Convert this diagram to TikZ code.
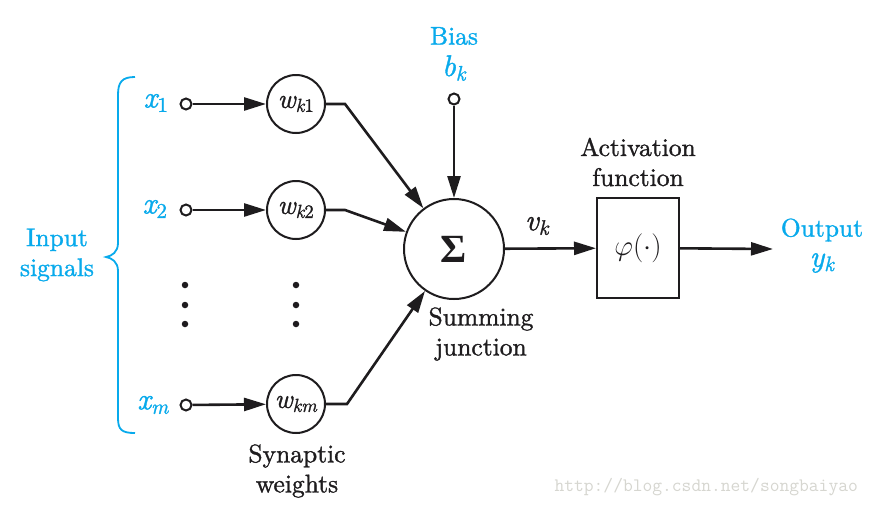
\documentclass[tikz,border=0pt]{standalone}
\usepackage{fix-cm}
\usepackage{fontspec}
\setmainfont{lmroman10-regular.otf}[ItalicFont=lmroman10-italic.otf, BoldFont=lmroman10-bold.otf, BoldItalicFont=lmroman10-bolditalic.otf, RawFeature={embolden=1.2}]
\newfontfamily\sigfont{Liberation Serif}
\usetikzlibrary{arrows.meta}
\definecolor{sigblue}{RGB}{8,170,236}
\definecolor{ink}{RGB}{30,28,30}
\definecolor{wmark}{RGB}{214,214,208}
\newcommand{\vi}[1]{\mathit{#1}}
\begin{document}
\begin{tikzpicture}[x=1pt,y=-1pt,
  every node/.style={font=\fontsize{25.5}{30}\selectfont, text=ink},
  mathbig/.style={font=\fontsize{30}{32}\selectfont},
  wcirc/.style={circle, draw=ink, line width=2pt, minimum size=58pt, inner sep=0pt, font=\fontsize{27}{30}\selectfont},
  incirc/.style={circle, draw=ink, fill=white, line width=2pt, minimum size=11pt, inner sep=0pt},
  sumcirc/.style={circle, draw=ink, line width=2pt, minimum size=100pt, inner sep=0pt},
  actbox/.style={rectangle, draw=ink, line width=2pt, minimum width=82pt, minimum height=100pt, inner sep=0pt, font=\fontsize{29}{30}\selectfont},
  arr/.style={draw=ink, line width=2.6pt, -{Triangle[length=22pt,width=13pt]}},
  bluetxt/.style={text=sigblue},
  lbl/.style={align=center, inner sep=0pt},
  dotmark/.style={circle, fill=ink, minimum size=6.5pt, inner sep=0pt}
]
\useasboundingbox[fill=white] (0,0) rectangle (874,506);

% input brace
\draw[sigblue, line width=1.8pt]
  (135,77) .. controls (122,77) and (118,82) .. (118,95) -- (118,243)
  .. controls (118,252) and (112,256) .. (106,257)
  .. controls (112,258) and (118,262) .. (118,271) -- (118,418)
  .. controls (118,430) and (122,433) .. (135,433);
\node[bluetxt, lbl] (insig) at (57,255) {Input\\signals};

% input labels and terminals
\node[bluetxt, mathbig] (lx1) at (156,103) {$\vi{x}_{\mathrm{1}}$};
\node[bluetxt, mathbig] (lx2) at (155,209) {$\vi{x}_{\mathrm{2}}$};
\node[bluetxt, mathbig] (lxm) at (153,405) {$\vi{x}_{\vi{m}}$};
\node[incirc] (i1) at (186,104) {};
\node[incirc] (i2) at (186,210) {};
\node[incirc] (im) at (186,405) {};

% weights
\node[wcirc] (w1) at (296,104) {$\vi{w}_{\vi{k}\mathrm{1}}$};
\node[wcirc] (w2) at (296,210) {$\vi{w}_{\vi{k}\mathrm{2}}$};
\node[wcirc] (wm) at (296,404) {$\vi{w}_{\vi{km}}$};

% dots
\node[dotmark] (d1) at (185,285) {};
\node[dotmark] (d2) at (185,305) {};
\node[dotmark] (d3) at (185,324) {};
\node[dotmark] (e1) at (296,285) {};
\node[dotmark] (e2) at (296,305) {};
\node[dotmark] (e3) at (296,324) {};

% summing junction
\node[sumcirc] (sig) at (454,249) {\fontsize{40}{44}\selectfont\sigfont\bfseries Σ};
\node[lbl] (sumlbl) at (481,334) {Summing\\junction};
\node[lbl] (synlbl) at (297,471) {Synaptic\\weights};

% bias
\node[bluetxt] (bias) at (454,36) {Bias};
\node[bluetxt, mathbig] (bk) at (454,68) {$\vi{b}_{\vi{k}}$};
\node[incirc] (bc) at (454,99) {};

% activation
\node[actbox] (act) at (638,248) {$\varphi(\cdot)$};
\node[lbl] (actlbl) at (638,162) {Activation\\function};
\node[bluetxt] (outlbl) at (822,230) {Output};
\node[bluetxt, mathbig] (yk) at (822,263) {$\vi{y}_{\vi{k}}$};
\node[mathbig] (vk) at (537,226) {$\vi{v}_{\vi{k}}$};

\coordinate (c1) at (345,104);
\coordinate (c2) at (345,210);
\coordinate (cm) at (347,404);
\coordinate (outend) at (773,249);

% connectors
\draw[arr] (i1) -- (w1);
\draw[arr] (i2) -- (w2);
\draw[arr] (im) -- (wm);
\draw[arr] (w1.east) -- (c1) -- (sig);
\draw[arr] (w2.east) -- (c2) -- (sig);
\draw[arr] (wm.east) -- (cm) -- (sig);
\draw[arr] (bc) -- (sig);
\draw[arr] (sig) -- (act);
\draw[arr] (act) -- (outend);

% watermark
\node[text=wmark, font=\fontsize{19}{22}\selectfont\ttfamily, anchor=west] (wm1) at (551,487) {http://blog.csdn.net/songbaiyao};
\end{tikzpicture}
\end{document}
